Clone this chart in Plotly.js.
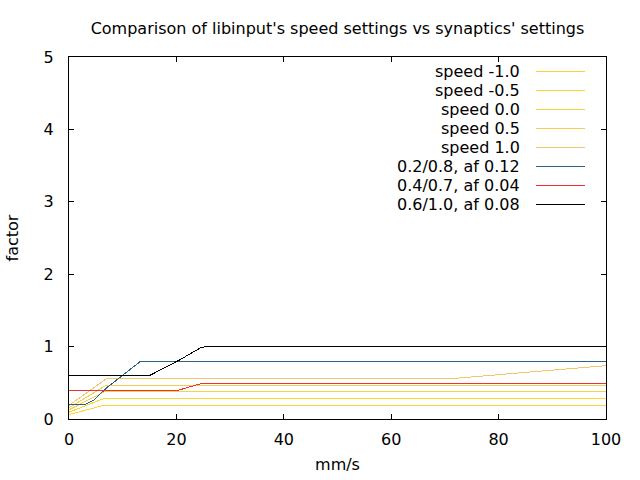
<!DOCTYPE html>
<html>
<head>
<meta charset="utf-8">
<script src="https://cdn.plot.ly/plotly-3.0.1.min.js"></script>
<style>
html,body{margin:0;padding:0;background:#fff;}
#chart{width:640px;height:480px;}
#chart path.js-line { shape-rendering: crispEdges; }
</style>
</head>
<body>
<div id="chart"></div>
<script>
// Series names (legend order)
const seriesNames = ["speed -1.0", "speed -0.5", "speed 0.0", "speed 0.5", "speed 1.0",
                     "0.2/0.8, af 0.12", "0.4/0.7, af 0.04", "0.6/1.0, af 0.08"];
const seriesColors = ["#f9d43c", "#fdd835", "#f7d245", "#f5cd55", "#f2c76c",
                      "#2e6187", "#f03232", "#000000"];

// libinput speed settings (x: mm/s, y: factor)
const speedM10X = [0, 6.0, 100];
const speedM10Y = [0.06, 0.18, 0.18];
const speedM05X = [0, 6.3, 100];
const speedM05Y = [0.094, 0.277, 0.277];
const speed00X = [0, 6.5, 100];
const speed00Y = [0.127, 0.373, 0.373];
const speed05X = [0, 6.7, 100];
const speed05Y = [0.155, 0.456, 0.456];
const speed10X = [0, 6.9, 70.5, 100];
const speed10Y = [0.188, 0.553, 0.553, 0.737];

// synaptics settings
const syn1X = [0, 3.0, 4.6, 7.0, 10.1, 13.2, 13.7, 100];
const syn1Y = [0.2, 0.2, 0.258, 0.43, 0.61, 0.79, 0.8, 0.8];
const syn2X = [0, 20.5, 24.4, 100];
const syn2Y = [0.4, 0.4, 0.485, 0.485];
const syn3X = [0, 15.0, 20.7, 24.4, 25.5, 100];
const syn3Y = [0.6, 0.6, 0.82, 0.98, 1.0, 1.0];

const xs = [speedM10X, speedM05X, speed00X, speed05X, speed10X, syn1X, syn2X, syn3X];
const ys = [speedM10Y, speedM05Y, speed00Y, speed05Y, speed10Y, syn1Y, syn2Y, syn3Y];

const xTicks = [0, 20, 40, 60, 80, 100];
const yTicks = [0, 1, 2, 3, 4, 5];

const FONT = "DejaVu Sans, sans-serif";
const FS = 16;

const traces = seriesNames.map((n, i) => ({
  type: "scatter", mode: "lines", name: n,
  x: xs[i], y: ys[i],
  line: {color: seriesColors[i], width: 1},
  showlegend: false
}));

// gnuplot-style key: right-aligned text with sample line to its right
const plotTop = 57, plotBottom = 419, plotLeft = 69, plotRight = 606;
const ph = plotBottom - plotTop, pw = plotRight - plotLeft;
const annotations = [];
const shapes = [];
seriesNames.forEach((n, i) => {
  const py = 71.5 + 19 * i;
  const yp = (plotBottom - py) / ph;
  annotations.push({
    xref: "paper", yref: "paper", x: (522 - plotLeft) / pw, y: yp,
    xanchor: "right", yanchor: "middle", text: n, showarrow: false,
    font: {family: FONT, size: FS, color: "#000"}
  });
  shapes.push({
    type: "line", xref: "paper", yref: "paper",
    x0: (536 - plotLeft) / pw, x1: (585 - plotLeft) / pw, y0: yp, y1: yp,
    line: {color: seriesColors[i], width: 1.2}
  });
});

const layout = {
  width: 640, height: 480,
  margin: {l: plotLeft, r: 640 - plotRight, t: plotTop, b: 480 - plotBottom, pad: 0},
  paper_bgcolor: "#fff", plot_bgcolor: "#fff",
  font: {family: FONT, size: FS, color: "#000"},
  title: {text: "Comparison of libinput's speed settings vs synaptics' settings",
          x: 0.5, xref: "paper", y: 1 - 28 / 480, yanchor: "middle",
          font: {family: FONT, size: FS, color: "#000"}},
  xaxis: {
    range: [0, 100], tickvals: xTicks, ticktext: xTicks.map(String),
    ticks: "inside", ticklen: 5, tickwidth: 1, tickcolor: "#000",
    ticklabelstandoff: 6,
    showline: true, linecolor: "#000", linewidth: 1, mirror: "ticks",
    showgrid: false, zeroline: false,
    title: {text: "mm/s", standoff: 10, font: {family: FONT, size: FS}}
  },
  yaxis: {
    range: [0, 5], tickvals: yTicks, ticktext: yTicks.map(String),
    ticks: "inside", ticklen: 5, tickwidth: 1, tickcolor: "#000",
    ticklabelstandoff: 11,
    showline: true, linecolor: "#000", linewidth: 1, mirror: "ticks",
    showgrid: false, zeroline: false,
    title: {text: "factor", standoff: 21, font: {family: FONT, size: FS}}
  },
  annotations: annotations,
  shapes: shapes
};

Plotly.newPlot("chart", traces, layout, {staticPlot: true, displayModeBar: false});
</script>
</body>
</html>
